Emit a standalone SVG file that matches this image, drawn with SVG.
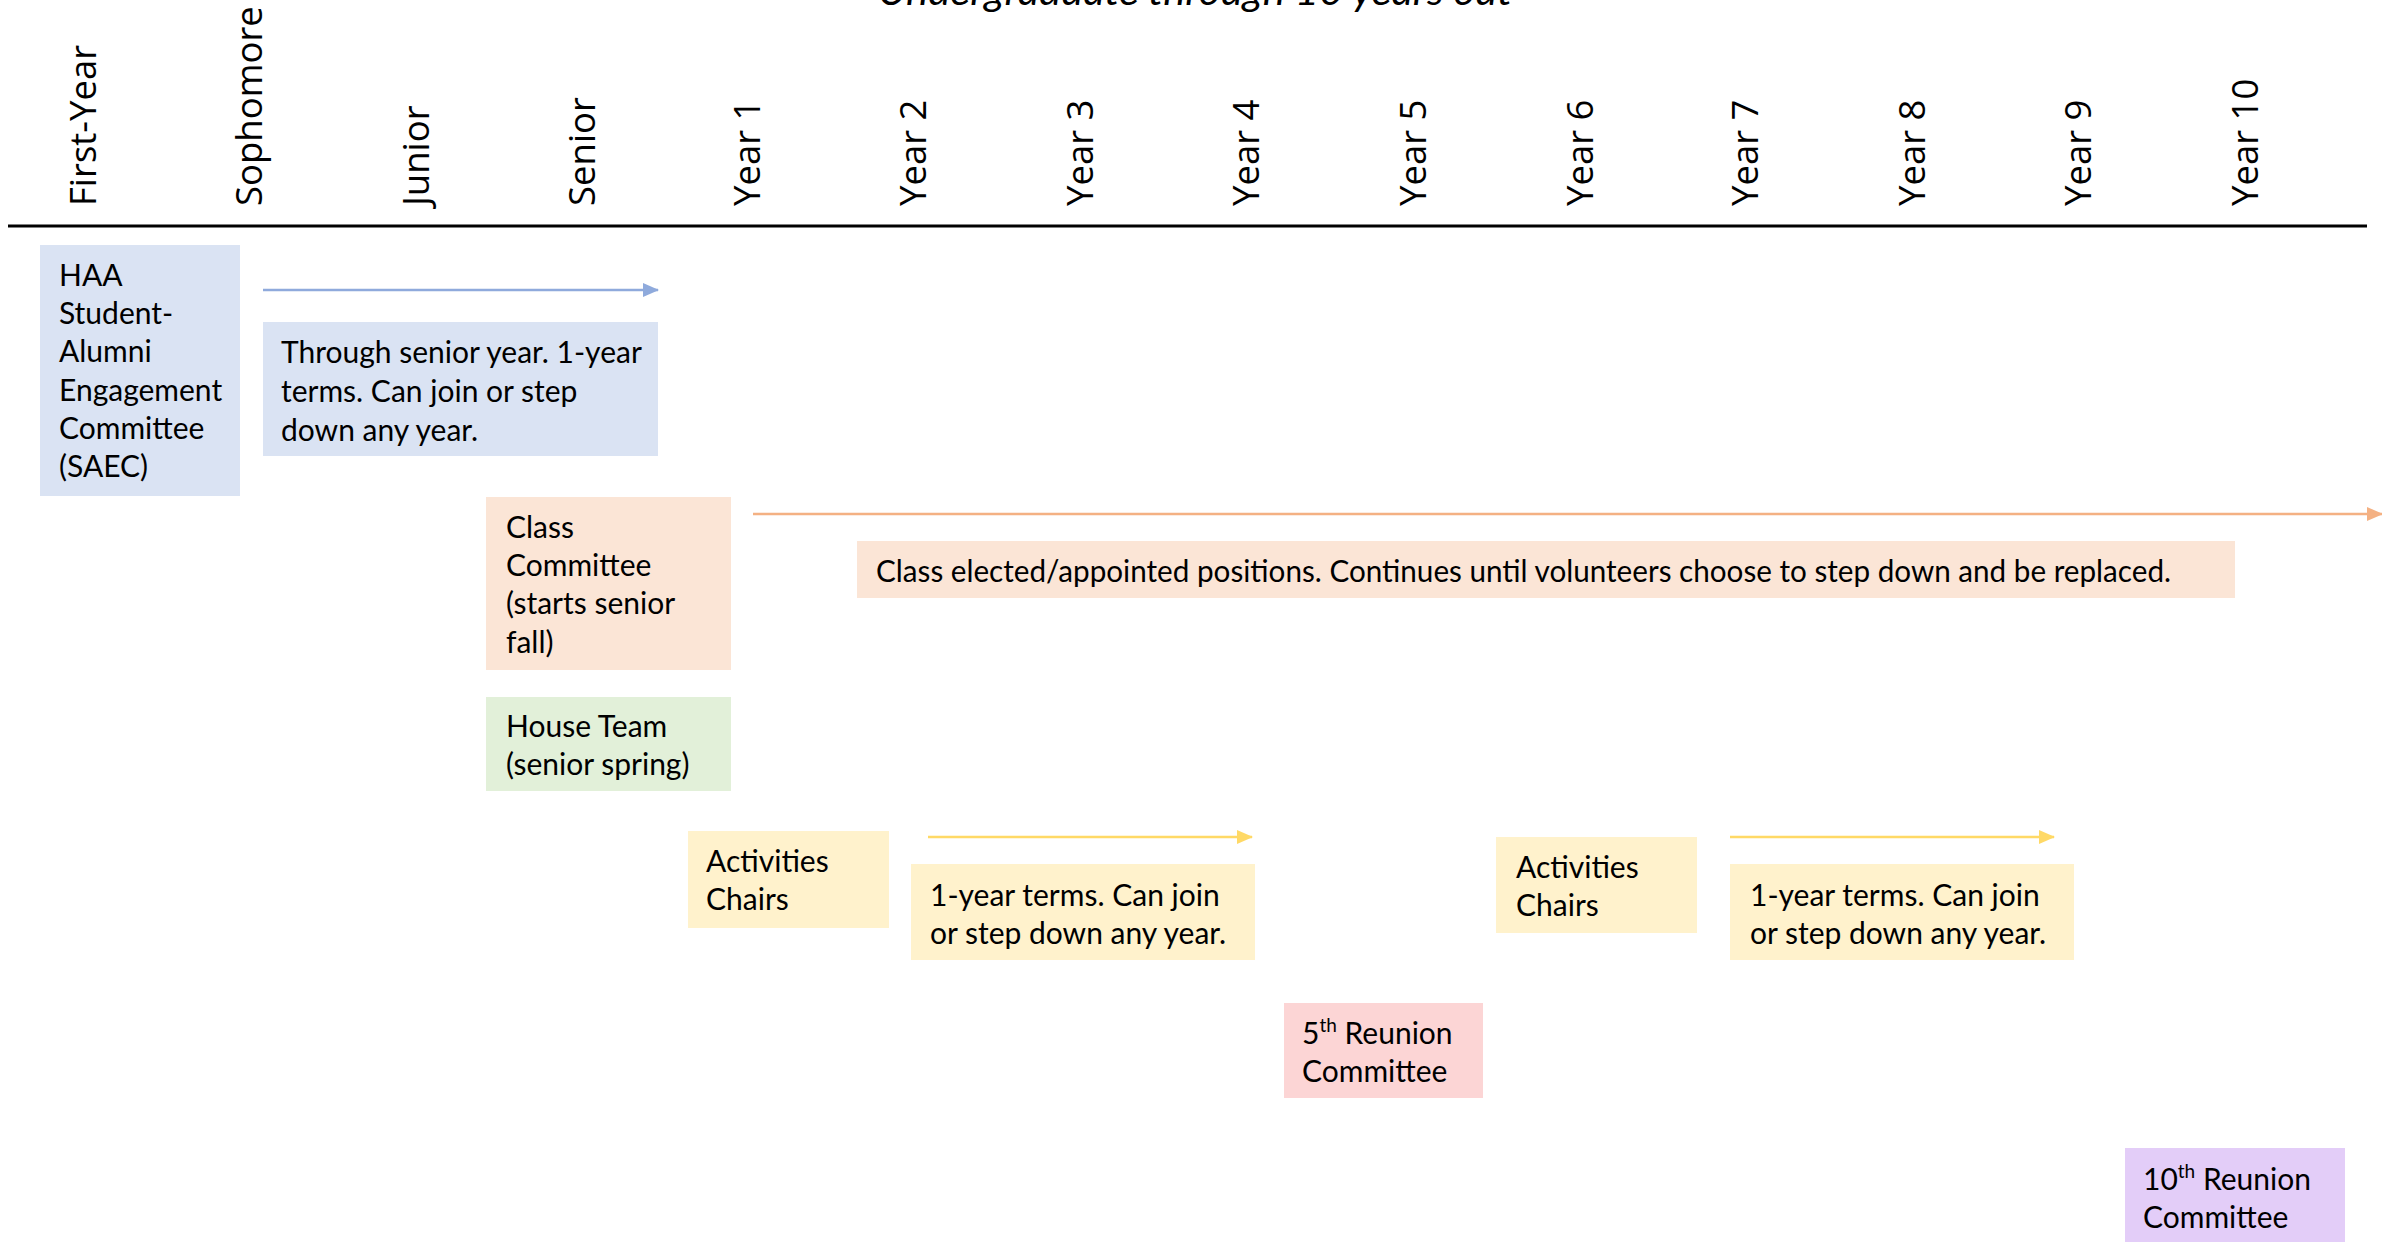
<svg xmlns="http://www.w3.org/2000/svg" width="2382" height="1242" viewBox="0 0 2382 1242">
<defs>
<style>
.hdr{font-family:"Open Sans","DejaVu Sans",sans-serif;font-size:36.5px;fill:#000}
.t{font-family:Lato,"Liberation Sans",sans-serif;font-size:30px;fill:#000}
.title{font-family:Lato,"Liberation Sans",sans-serif;font-size:38px;font-style:italic;fill:#000}
.blue{fill:#DAE3F3}
.peach{fill:#FBE5D6}
.green{fill:#E2F0D9}
.yellow{fill:#FFF2CC}
.pink{fill:#FCD5D5}
.purple{fill:#E3CDF8}
</style>
<marker id="ab" markerUnits="userSpaceOnUse" markerWidth="16" markerHeight="14" refX="15" refY="7" orient="auto"><path d="M0,0 L16,7 L0,14 Z" fill="#8FAADC"/></marker>
<marker id="ao" markerUnits="userSpaceOnUse" markerWidth="16" markerHeight="14" refX="15" refY="7" orient="auto"><path d="M0,0 L16,7 L0,14 Z" fill="#F4B183"/></marker>
<marker id="ay" markerUnits="userSpaceOnUse" markerWidth="16" markerHeight="14" refX="15" refY="7" orient="auto"><path d="M0,0 L16,7 L0,14 Z" fill="#FFD966"/></marker>
</defs>
<rect width="2382" height="1242" fill="#fff"/>
<text class="title" x="878" y="5" textLength="634" lengthAdjust="spacingAndGlyphs">Undergraduate through 10 years out</text>
<g id="headers">
<text class="hdr" transform="translate(96,206) rotate(-90)">First-Year</text>
<text class="hdr" transform="translate(262,206) rotate(-90)">Sophomore</text>
<text class="hdr" transform="translate(429,206) rotate(-90)">Junior</text>
<text class="hdr" transform="translate(595,206) rotate(-90)">Senior</text>
<text class="hdr" transform="translate(760,206) rotate(-90)">Year 1</text>
<text class="hdr" transform="translate(926,206) rotate(-90)">Year 2</text>
<text class="hdr" transform="translate(1093,206) rotate(-90)">Year 3</text>
<text class="hdr" transform="translate(1259,206) rotate(-90)">Year 4</text>
<text class="hdr" transform="translate(1426,206) rotate(-90)">Year 5</text>
<text class="hdr" transform="translate(1593,206) rotate(-90)">Year 6</text>
<text class="hdr" transform="translate(1758,206) rotate(-90)">Year 7</text>
<text class="hdr" transform="translate(1925,206) rotate(-90)">Year 8</text>
<text class="hdr" transform="translate(2091,206) rotate(-90)">Year 9</text>
<text class="hdr" transform="translate(2258,206) rotate(-90)">Year 10</text>
</g>
<line x1="8" y1="226" x2="2367" y2="226" stroke="#000" stroke-width="3"/>
<g id="connectors" fill="none" stroke-width="2.5">
<line x1="263" y1="290" x2="658" y2="290" stroke="#8FAADC" marker-end="url(#ab)"/>
<line x1="753" y1="514" x2="2382" y2="514" stroke="#F4B183" marker-end="url(#ao)"/>
<line x1="928" y1="837" x2="1252" y2="837" stroke="#FFD966" marker-end="url(#ay)"/>
<line x1="1730" y1="837" x2="2054" y2="837" stroke="#FFD966" marker-end="url(#ay)"/>
</g>
<g id="saec">
<rect class="blue" x="40" y="245" width="200" height="251"/>
<text class="t"><tspan x="59" y="286">HAA</tspan><tspan x="59" y="324">Student-</tspan><tspan x="59" y="362">Alumni</tspan><tspan x="59" y="401">Engagement</tspan><tspan x="59" y="439">Committee</tspan><tspan x="59" y="477">(SAEC)</tspan></text>
</g>
<g id="saec-note">
<rect class="blue" x="263" y="322" width="395" height="134"/>
<text class="t"><tspan x="281" y="363">Through senior year. 1-year</tspan><tspan x="281" y="402">terms. Can join or step</tspan><tspan x="281" y="441">down any year.</tspan></text>
</g>
<g id="class-committee">
<rect class="peach" x="486" y="497" width="245" height="173"/>
<text class="t"><tspan x="506" y="538">Class</tspan><tspan x="506" y="576">Committee</tspan><tspan x="506" y="614">(starts senior</tspan><tspan x="506" y="653">fall)</tspan></text>
</g>
<g id="class-note">
<rect class="peach" x="857" y="541" width="1378" height="57"/>
<text class="t" x="876" y="582" textLength="1295" lengthAdjust="spacingAndGlyphs">Class elected/appointed positions. Continues until volunteers choose to step down and be replaced.</text>
</g>
<g id="house-team">
<rect class="green" x="486" y="697" width="245" height="94"/>
<text class="t"><tspan x="506" y="737">House Team</tspan><tspan x="506" y="775">(senior spring)</tspan></text>
</g>
<g id="activities-1">
<rect class="yellow" x="688" y="831" width="201" height="97"/>
<text class="t"><tspan x="706" y="872">Activities</tspan><tspan x="706" y="910">Chairs</tspan></text>
</g>
<g id="activities-note-1">
<rect class="yellow" x="911" y="864" width="344" height="96"/>
<text class="t"><tspan x="930" y="906">1-year terms. Can join</tspan><tspan x="930" y="944">or step down any year.</tspan></text>
</g>
<g id="activities-2">
<rect class="yellow" x="1496" y="837" width="201" height="96"/>
<text class="t"><tspan x="1516" y="878">Activities</tspan><tspan x="1516" y="916">Chairs</tspan></text>
</g>
<g id="activities-note-2">
<rect class="yellow" x="1730" y="864" width="344" height="96"/>
<text class="t"><tspan x="1750" y="906">1-year terms. Can join</tspan><tspan x="1750" y="944">or step down any year.</tspan></text>
</g>
<g id="reunion-5">
<rect class="pink" x="1284" y="1003" width="199" height="95"/>
<text class="t"><tspan x="1302" y="1044">5</tspan><tspan font-size="19" dy="-12">th</tspan><tspan dy="12"> Reunion</tspan><tspan x="1302" y="1082">Committee</tspan></text>
</g>
<g id="reunion-10">
<rect class="purple" x="2125" y="1148" width="220" height="94"/>
<text class="t"><tspan x="2143" y="1190">10</tspan><tspan font-size="19" dy="-12">th</tspan><tspan dy="12"> Reunion</tspan><tspan x="2143" y="1228">Committee</tspan></text>
</g>
</svg>
